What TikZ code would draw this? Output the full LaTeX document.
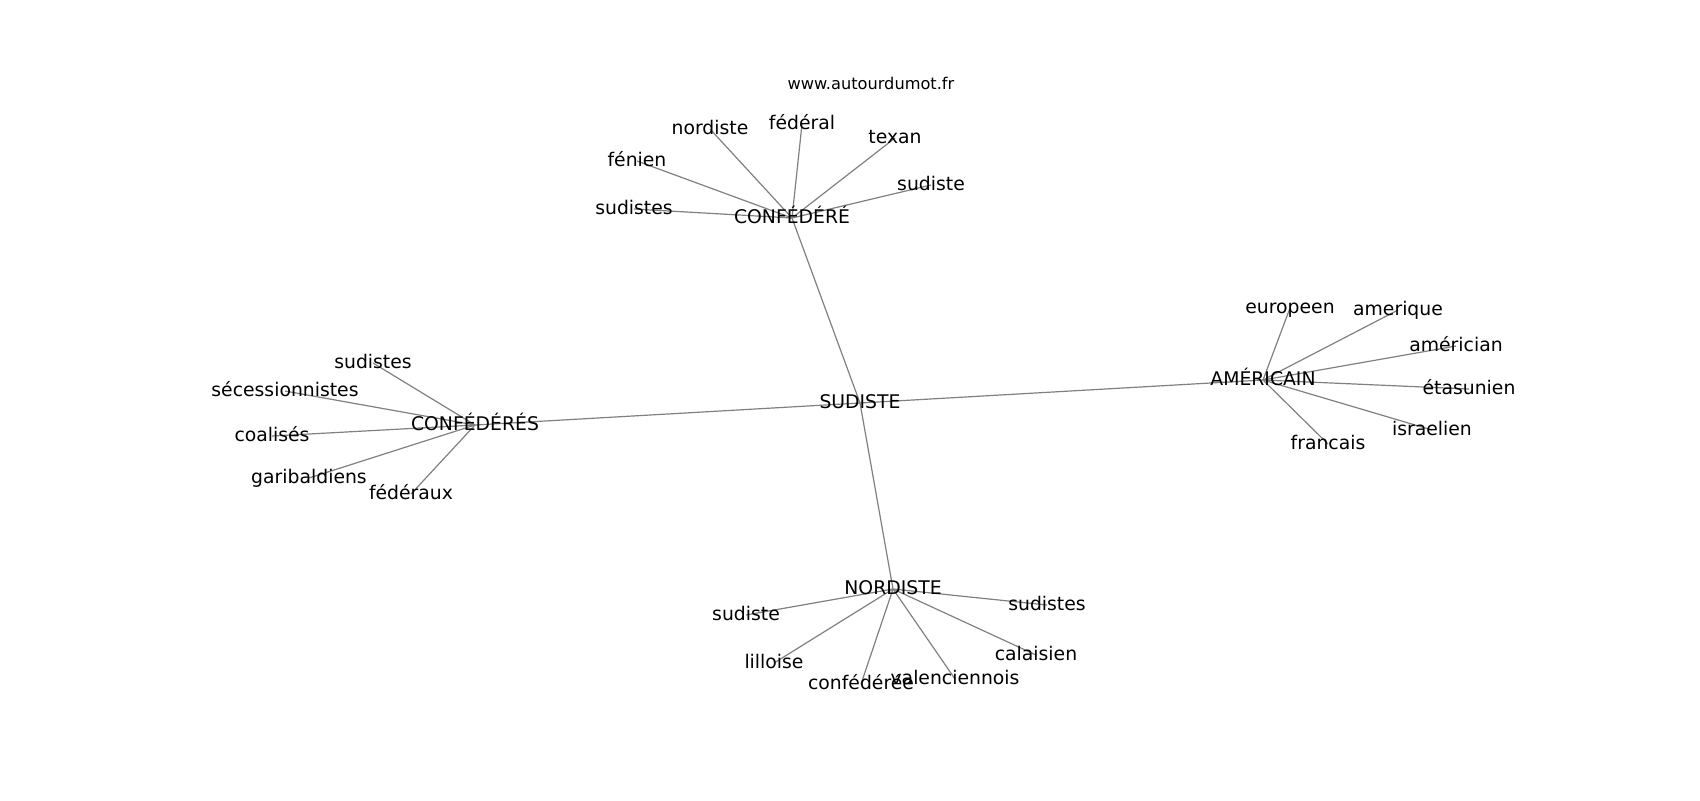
\documentclass[tikz,border=0pt]{standalone}
\usepackage{fontspec}
\setmainfont{DejaVu Sans}
\usetikzlibrary{backgrounds}
\tikzset{
  mot/.style={font=\fontsize{9.4}{11}\selectfont, inner sep=0pt, text height=0.76em, text depth=0.24em},
  lien/.style={draw=gray, line width=0.6pt}
}
\begin{document}
\begin{tikzpicture}[x=0.5pt,y=-0.5pt]
\useasboundingbox (0,0) rectangle (1700,800);
\node[font=\fontsize{8.1}{10}\selectfont] (site) at (871,83) {www.autourdumot.fr};
\begin{scope}
\clip (211,0) rectangle (1700,800);
% centre
\node[mot] (sud) at (860,403) {SUDISTE};
% CONFEDERE
\node[mot] (cfe) at (792,218) {CONFÉDÉRÉ};
\node[mot] (cfe1) at (634,209) {sudistes};
\node[mot] (cfe2) at (637,161) {fénien};
\node[mot] (cfe3) at (710,129) {nordiste};
\node[mot] (cfe4) at (802,124) {fédéral};
\node[mot] (cfe5) at (895,138) {texan};
\node[mot] (cfe6) at (931,185) {sudiste};
% CONFEDERES
\node[mot] (cfs) at (475,425) {CONFÉDÉRÉS};
\node[mot] (cfs1) at (373,363) {sudistes};
\node[mot] (cfs2) at (285,391) {sécessionnistes};
\node[mot] (cfs3) at (272,436) {coalisés};
\node[mot] (cfs4) at (309,478) {garibaldiens};
\node[mot] (cfs5) at (411,494) {fédéraux};
% NORDISTE
\node[mot] (nor) at (893,589) {NORDISTE};
\node[mot] (nor1) at (746,615) {sudiste};
\node[mot] (nor2) at (774,663) {lilloise};
\node[mot] (nor3) at (861,684) {confédérée};
\node[mot] (nor4) at (955,679) {valenciennois};
\node[mot] (nor5) at (1036,655) {calaisien};
\node[mot] (nor6) at (1047,605) {sudistes};
% AMERICAIN
\node[mot] (ame) at (1263,380) {AMÉRICAIN};
\node[mot] (ame1) at (1290,308) {europeen};
\node[mot] (ame2) at (1398,310) {amerique};
\node[mot] (ame3) at (1456,346) {américian};
\node[mot] (ame4) at (1469,389) {étasunien};
\node[mot] (ame5) at (1432,430) {israelien};
\node[mot] (ame6) at (1328,444) {francais};
\end{scope}
\begin{pgfonlayer}{background}
\foreach \h in {cfe,cfs,nor,ame}
  \draw[lien] (sud.center) -- (\h.center);
\foreach \f in {1,...,6}
  \draw[lien] (cfe.center) -- (cfe\f.center);
\foreach \f in {1,...,5}
  \draw[lien] (cfs.center) -- (cfs\f.center);
\foreach \f in {1,...,6}
  \draw[lien] (nor.center) -- (nor\f.center);
\foreach \f in {1,...,6}
  \draw[lien] (ame.center) -- (ame\f.center);
\end{pgfonlayer}
\end{tikzpicture}
\end{document}
